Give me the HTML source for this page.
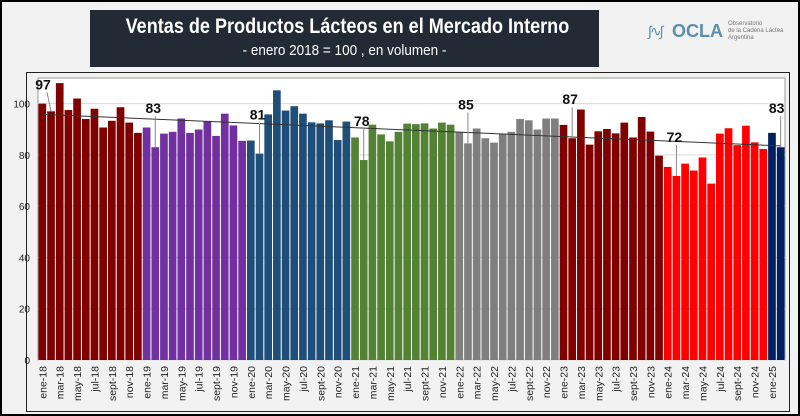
<!DOCTYPE html>
<html><head><meta charset="utf-8">
<style>
html,body{margin:0;padding:0;}
body{width:800px;height:416px;background:#000;overflow:hidden;font-family:"Liberation Sans",sans-serif;}
#wrap{position:absolute;left:2px;top:2px;width:796px;height:412px;background:#f2f2f2;}
#title{position:absolute;left:88px;top:8px;width:509px;height:57px;background:#222a35;color:#fff;text-align:center;overflow:hidden;}
#title .t1{font-size:21px;font-weight:bold;margin-top:5px;white-space:nowrap;transform:scaleX(0.86);transform-origin:center;}
#title .t2{font-size:15px;margin-top:3px;white-space:nowrap;transform:scaleX(0.9);}
#logo{position:absolute;left:646px;top:18px;color:#5a8fb0;width:140px;height:30px;}
#chartbox{position:absolute;left:24px;top:70px;width:762px;height:338px;border:1px solid #222;background:#f2f2f2;}
svg{position:absolute;left:0;top:0;}
</style></head><body>
<div id="wrap">
<div id="title"><div class="t1">Ventas de Productos Lácteos en el Mercado Interno</div><div class="t2">- enero 2018 = 100 , en volumen -</div></div>
<div id="logo"><span style="font-size:14px;letter-spacing:-2px;position:absolute;left:0;top:3px">∫∿∫</span><b style="font-size:18px;position:absolute;left:24px;top:1px">OCLA</b><span style="position:absolute;left:80px;top:1px;font-size:6px;line-height:7px;width:70px;color:#777">Observatorio<br>de la Cadena Láctea<br>Argentina</span></div>
<div id="chartbox"></div>
</div>
<svg id="chart" width="800" height="416"></svg>
<script>
const values2018=[100,97,108,97.5,102,94,98,90.7,93.3,98.6,92.6,88.6];
const values2019=[90.7,83,88.3,89,94.2,88.6,89.9,93.2,87.4,96.1,91.5,85.5];
const values2020=[85.6,80.5,95.8,105.2,97.3,99,96.1,92.7,92.3,93.5,85.8,93];
const values2021=[86.8,78,91.8,88,85.3,89,92.2,92,92.3,90.3,92.6,91.8];
const values2022=[89,84.5,90.3,86.5,84.8,88.3,89,94,93.5,89.9,94.2,94.2];
const values2023=[91.7,86.5,97.7,84,89.2,90.1,88.4,92.6,86.8,94.8,89.1,79.7];
const values2024=[75.3,71.8,76.6,73.9,79,68.8,88.3,90.4,83.8,91.4,84.9,82.3];
const values2025=[88.6,83];
const yearColors=["#800000","#7030a0","#1f4e79","#548235","#7f7f7f","#800000","#ff0000","#002060"];
const yearSuffix=["18","19","20","21","22","23","24","25"];
const monthNames=["ene","feb","mar","abr","may","jun","jul","ago","sept","oct","nov","dic"];
const yTicks=[0,20,40,60,80,100];
const annotIdx=[1,13,25,37,49,61,73,85];

const years=[values2018,values2019,values2020,values2021,values2022,values2023,values2024,values2025];
const NS="http://www.w3.org/2000/svg";
const svg=document.getElementById('chart');
const L=38,R=785,T=78,B=360,YMAX=110;
const all=[];years.forEach((a,yi)=>a.forEach((v,mi)=>all.push({v,yi,mi})));
const N=all.length,bw=(R-L)/N;
const y=v=>B-(v/YMAX)*(B-T);
const x=i=>L+i*bw;
function el(t,a){const e=document.createElementNS(NS,t);for(const k in a)e.setAttribute(k,a[k]);svg.appendChild(e);return e;}
const plot=el('rect',{x:L,y:T,width:R-L,height:B-T,fill:'#fff',stroke:'#999'});


yTicks.forEach(t=>{
 const g=el('line',{x1:L,x2:R,y1:y(t),y2:y(t),stroke:'#d9d9d9'});
 
 
 const tx=el('text',{x:L-8,y:y(t)+4,'text-anchor':'end','font-size':'10',fill:'#222'});
 tx.textContent=t;
 
 
});
all.forEach((d,i)=>{
 const r=el('rect',{x:x(i)+0.5,y:y(d.v),width:bw-1,height:B-y(d.v),fill:yearColors[d.yi]});
 
 
 if(d.mi%2===0){
  const cx=x(i)+bw/2+4;
  const t=el('text',{x:cx,y:366,'text-anchor':'end','font-size':'10.5',fill:'#222',transform:`rotate(-90 ${cx} 366)`});
  t.textContent=monthNames[d.mi]+'-'+yearSuffix[d.yi];
  
  
 }
});
let sx=0,sy=0,sxy=0,sxx=0;all.forEach((d,i)=>{sx+=i;sy+=d.v;sxy+=i*d.v;sxx+=i*i;});
const m=(N*sxy-sx*sy)/(N*sxx-sx*sx),b0=(sy-m*sx)/N;
const tl=el('line',{x1:x(0)+bw/2,y1:y(b0),x2:x(N-1)+bw/2,y2:y(b0+m*(N-1)),stroke:'#333','stroke-width':'1'});


annotIdx.forEach(i=>{
 const d=all[i],cx=x(i)+bw/2,ty=y(d.v);
 const lx=i===1?cx-8:(i===N-1?cx-4:cx-2);
 const ly=i===1?y(d.v)-22:y(d.v)-34;
 const ln=el('line',{x1:cx,y1:ty,x2:i===1?cx-4:cx,y2:ly+3,stroke:'#888'});
 
 
 const t=el('text',{x:lx,y:ly,'text-anchor':'middle','font-size':'14','font-weight':'bold',fill:'#111'});
 t.textContent=Math.round(d.v);
 
 
});
</script>
</body></html>
